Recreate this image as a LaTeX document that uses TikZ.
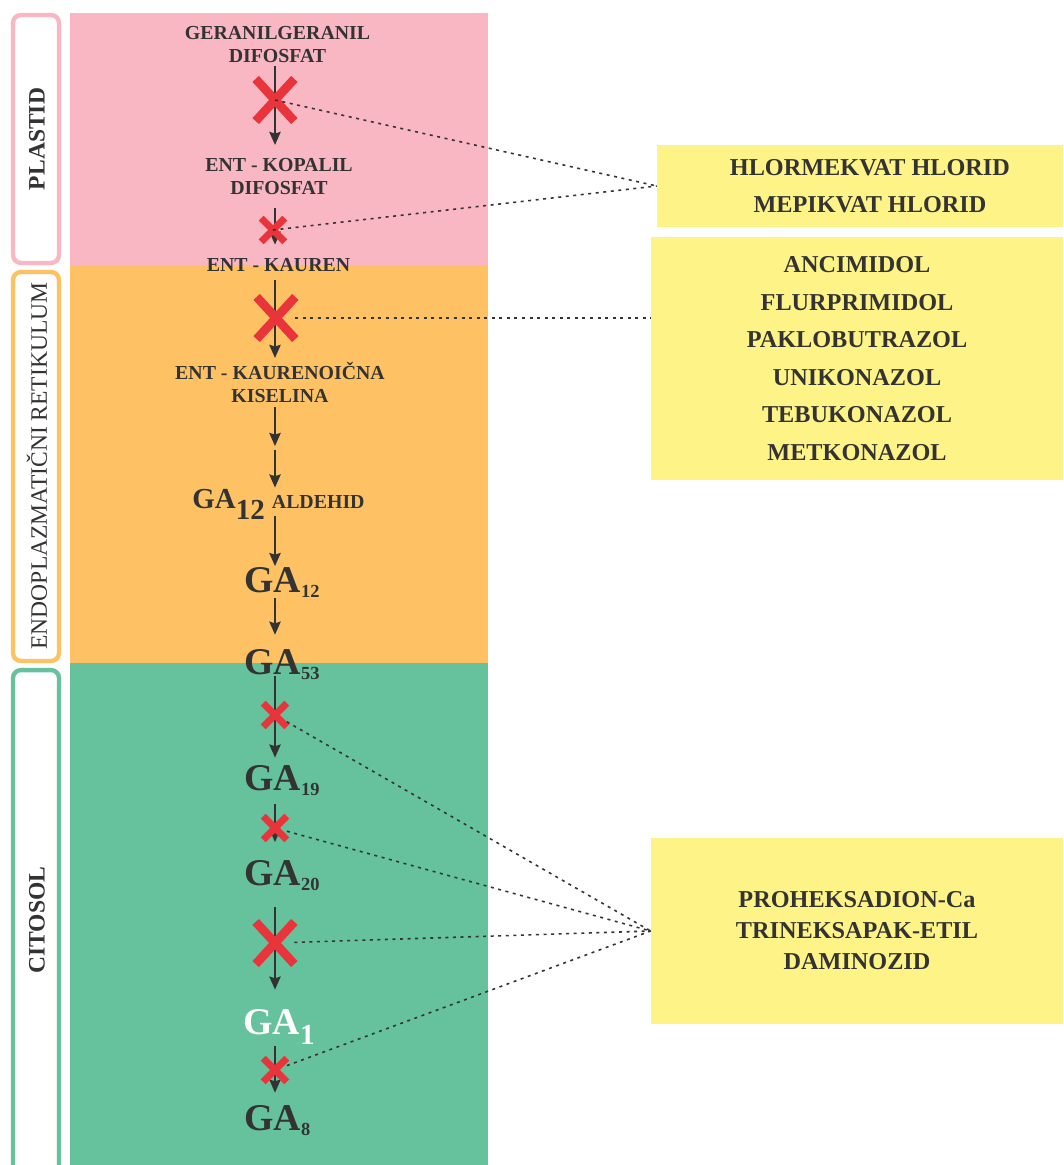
\documentclass[tikz,border=0pt]{standalone}
\usepackage{fontspec}
\setmainfont{Liberation Serif}
\usetikzlibrary{arrows.meta,shapes.misc}
\definecolor{ink}{HTML}{333333}
\definecolor{plastidpink}{HTML}{F9B6C3}
\definecolor{erorange}{HTML}{FEC264}
\definecolor{cytogreen}{HTML}{66C29D}
\definecolor{drugyellow}{HTML}{FEF386}
\definecolor{xred}{HTML}{E8343A}
\newcommand\stepfont{\fontsize{11.3}{13}\selectfont\bfseries}
\newcommand\boxfont{\fontsize{13.8}{21.4}\selectfont\bfseries}
\newcommand\sidefont{\fontsize{13.4}{14}\selectfont}
\newcommand\gasub[1]{{\fontsize{21.5}{22}\selectfont GA}{\fontsize{10.5}{11}\selectfont\raisebox{-3.4pt}{#1}}}
\newcommand\gabig[1]{{\fontsize{21.5}{22}\selectfont GA}{\fontsize{16.5}{17}\selectfont\raisebox{-5.7pt}{#1}}}
\begin{document}
\begin{tikzpicture}[x=0.02cm, y=-0.02cm, line join=round,
    stepnode/.style={inner sep=0pt, text=ink, font=\stepfont, align=center},
    ganode/.style={inner sep=0pt, text=ink, font=\bfseries, anchor=base},
    arr/.style={draw=ink, line width=1pt, -{Stealth[length=7.5pt,width=6.5pt,inset=1pt]}},
    bigx/.style={cross out, draw=xred, line width=5pt, minimum width=17pt, minimum height=19pt, inner sep=0pt},
    smallx/.style={cross out, draw=xred, line width=4pt, minimum size=9.5pt, inner sep=0pt},
    hint/.style={draw=ink, line width=0.9pt, dash pattern=on 1.7pt off 2.6pt},
    drugbox/.style={fill=drugyellow, text=ink, font=\boxfont, align=center, inner sep=0pt, minimum width=8.24cm},
    sidebox/.style={fill=white, rounded corners=4.5pt, line width=2.5pt, minimum width=0.92cm, inner sep=0pt},
    sidelabel/.style={rotate=90, text=ink, inner sep=0pt}]
  \useasboundingbox (0,0) rectangle (1063,1165);

  % compartments
  \fill[plastidpink] (70,13) rectangle (488,265);
  \fill[erorange] (70,265) rectangle (488,663);
  \fill[cytogreen] (70,663) rectangle (488,1165);

  \node[sidebox, draw=plastidpink, minimum height=4.96cm] (plastidbox) at (36,139) {};
  \node[sidebox, draw=erorange, minimum height=7.78cm] (erbox) at (36,466.5) {};
  \node[sidebox, draw=cytogreen, minimum height=10.2cm] (cytobox) at (36,925) {};
  \node[sidelabel, font=\sidefont\bfseries] (plastid) at (37,139) {PLASTID};
  \node[sidelabel, font=\sidefont] (er) at (37,466) {ENDOPLAZMATIČNI RETIKULUM};
  \node[sidelabel, font=\sidefont\bfseries] (cyto) at (37,920) {CITOSOL};

  % pathway
  \coordinate (axis) at (275,0);
  \node[stepnode, anchor=north] (ggpp) at (277.5,26) {GERANILGERANIL\\DIFOSFAT};
  \node[stepnode, anchor=north] (cpp) at (279,158) {ENT - KOPALIL\\DIFOSFAT};
  \node[stepnode, anchor=base] (kauren) at (278.5,272) {ENT - KAUREN};
  \node[stepnode, anchor=north] (kacid) at (280,362) {ENT - KAURENOIČNA\\KISELINA};
  \coordinate (split) at (275,448);
  \node[ganode] (ald) at (278.5,508) {{\fontsize{16.5}{17}\selectfont GA\raisebox{-6.6pt}{12}}\hspace{4pt}{\stepfont ALDEHID}};
  \node[ganode] (ga12) at (282,592) {\gasub{12}};
  \node[ganode] (ga53) at (282,674) {\gasub{53}};
  \node[ganode] (ga19) at (282,790) {\gasub{19}};
  \node[ganode] (ga20) at (282,885) {\gasub{20}};
  \node[ganode, text=white] (ga1) at (279,1034) {\gabig{1}};
  \node[ganode] (ga8) at (277.5,1130) {\gasub{8}};

  \draw[arr, shorten <=1.7pt, shorten >=7.4pt] (ggpp.south -| axis) -- (cpp.north -| axis);
  \draw[arr, shorten <=7.4pt, shorten >=7.9pt] (cpp.south -| axis) -- (kauren.north -| axis);
  \draw[arr, shorten <=4.5pt, shorten >=2.3pt] (kauren.south -| axis) -- (kacid.north -| axis);
  \draw[arr, shorten <=2.3pt, shorten >=1.1pt] (kacid.south -| axis) -- (split);
  \draw[arr, shorten <=1.1pt, shorten >=0.5pt] (split) -- (ald.north -| axis);
  \draw[arr, shorten <=-2.3pt, shorten >=0.3pt] (ald.south -| axis) -- (ga12.north -| axis);
  \draw[arr, shorten <=0pt, shorten >=7.9pt] (ga12.south -| axis) -- (ga53.north -| axis);
  \draw[arr, shorten <=-2.8pt, shorten >=4pt] (ga53.south -| axis) -- (ga19.north -| axis);
  \draw[arr, shorten <=4pt, shorten >=10pt] (ga19.south -| axis) -- (ga20.north -| axis);
  \draw[arr, shorten <=9pt, shorten >=10.8pt] (ga20.south -| axis) -- (ga1.north -| axis);
  \draw[arr, shorten <=1.1pt, shorten >=6.8pt] (ga1.south -| axis) -- (ga8.north -| axis);

  % blocked steps
  \node[bigx] (x1) at (275,100) {};
  \node[smallx] (x2) at (273,230) {};
  \node[bigx] (x3) at (276,318) {};
  \node[smallx] (x4) at (275,715) {};
  \node[smallx] (x5) at (275,828) {};
  \node[bigx] (x6) at (275,943) {};
  \node[smallx] (x7) at (275,1070) {};

  % inhibitors
  \node[drugbox, minimum width=8.12cm, minimum height=1.64cm] (onium) at (860,186)
    {\hspace*{11.3pt}HLORMEKVAT HLORID\\\hspace*{11.3pt}MEPIKVAT HLORID};
  \node[drugbox, minimum height=4.86cm] (azoles) at (857,358.5)
    {ANCIMIDOL\\FLURPRIMIDOL\\PAKLOBUTRAZOL\\UNIKONAZOL\\TEBUKONAZOL\\METKONAZOL};
  \node[drugbox, minimum height=3.72cm, font=\fontsize{13.8}{17.6}\selectfont\bfseries] (dioxy) at (857,931)
    {PROHEKSADION-Ca\\TRINEKSAPAK-ETIL\\DAMINOZID};

  \draw[hint] (x1.center) -- (onium.west);
  \draw[hint] (x2.center) -- (onium.west);
  \draw[hint] (x3) -- (x3 -| azoles.west);
  \foreach \n in {x4,x5,x6,x7}
    \draw[hint] (\n) -- (dioxy.west);
\end{tikzpicture}
\end{document}
